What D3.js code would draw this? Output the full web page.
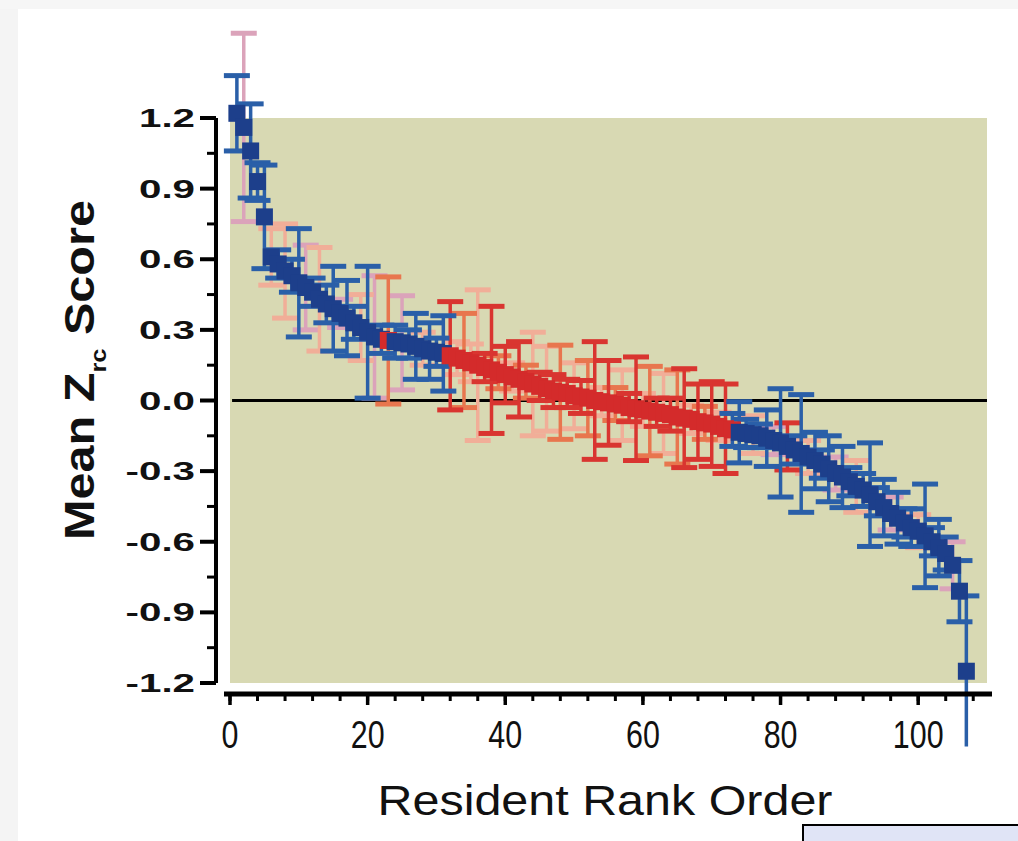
<!DOCTYPE html>
<html><head><meta charset="utf-8">
<script src="https://cdn.jsdelivr.net/npm/d3@7"></script>
<style>html,body{margin:0;padding:0;background:#fff;}svg{display:block;}</style>
</head><body>
<script>
// ---- data ----
const meanZ = [
  1.22, 1.16, 1.06, 0.93, 0.78, 0.61, 0.58, 0.55, 0.53, 0.50,
  0.48, 0.46, 0.43, 0.41, 0.39, 0.37, 0.35, 0.33, 0.31, 0.29,
  0.27, 0.26, 0.255, 0.25, 0.245, 0.24, 0.23, 0.22, 0.21, 0.205,
  0.20, 0.19, 0.18, 0.17, 0.16, 0.15, 0.14, 0.13, 0.12, 0.11,
  0.10, 0.09, 0.08, 0.07, 0.06, 0.05, 0.04, 0.035, 0.03, 0.02,
  0.015, 0.01, 0.0, -0.005, -0.01, -0.015, -0.02, -0.03, -0.035, -0.04,
  -0.045, -0.05, -0.055, -0.06, -0.07, -0.075, -0.08, -0.09, -0.095, -0.10,
  -0.11, -0.12, -0.125, -0.135, -0.14, -0.145, -0.15, -0.16, -0.17, -0.18,
  -0.195, -0.21, -0.225, -0.24, -0.255, -0.27, -0.29, -0.31, -0.325, -0.345,
  -0.365, -0.38, -0.40, -0.43, -0.455, -0.48, -0.50, -0.52, -0.54, -0.555,
  -0.575, -0.60, -0.625, -0.65, -0.70, -0.81, -1.15
];
const errZ = [
  0.16, 0.40, 0.20, 0.08, 0.22, 0.12, 0.06, 0.20, 0.07, 0.23,
  0.18, 0.06, 0.22, 0.08, 0.18, 0.06, 0.16, 0.07, 0.14, 0.28,
  0.26, 0.06, 0.27, 0.07, 0.20, 0.06, 0.14, 0.07, 0.12, 0.06,
  0.16, 0.23, 0.07, 0.20, 0.08, 0.32, 0.06, 0.27, 0.07, 0.12,
  0.06, 0.16, 0.07, 0.22, 0.06, 0.18, 0.07, 0.20, 0.06, 0.14,
  0.07, 0.16, 0.25, 0.06, 0.18, 0.07, 0.15, 0.06, 0.22, 0.07,
  0.19, 0.06, 0.17, 0.07, 0.20, 0.21, 0.06, 0.16, 0.07, 0.18,
  0.06, 0.19, 0.07, 0.13, 0.06, 0.08, 0.05, 0.12, 0.06, 0.23,
  0.10, 0.06, 0.25, 0.07, 0.12, 0.06, 0.14, 0.07, 0.13, 0.06,
  0.11, 0.07, 0.22, 0.06, 0.12, 0.07, 0.11, 0.06, 0.08, 0.07,
  0.22, 0.06, 0.12, 0.07, 0.10, 0.13, 0.32
];
// error bar colour class: b blue, p pink, s salmon, r red, o orange
const errClass = (
  "bpbbbsbsbb" + "pbsbbpbbsb" + "pbobpbbsbb" + "brsossrror" +
  "srosrsrors" + "rorsrosrrs" + "orsrorsror" + "srbbbsbbpb" +
  "rbbsbbbpbb" + "sbbbbpbbbs" + "bbbbpbb"
).split("");
// point group: B blue, R red
const groups = meanZ.map((_, i) => {
  const r = i + 1;
  return (r === 23 || (r >= 32 && r <= 73)) ? "R" : "B";
});
const yTicks = [1.2, 0.9, 0.6, 0.3, 0.0, -0.3, -0.6, -0.9, -1.2];
const yTickLabels = ["1.2", "0.9", "0.6", "0.3", "0.0", "-0.3", "-0.6", "-0.9", "-1.2"];
const xTicks = [0, 20, 40, 60, 80, 100];
const xTickLabels = ["0", "20", "40", "60", "80", "100"];

// ---- drawing ----
const W = 1018, H = 841;
const svg = d3.select("body").append("svg").attr("width", W).attr("height", H);

// screenshot frame artefacts
svg.append("rect").attr("x", 0).attr("y", 0).attr("width", W).attr("height", H).attr("fill", "#fff");
svg.append("rect").attr("x", 0).attr("y", 0).attr("width", 18).attr("height", H).attr("fill", "#f4f4f4");
svg.append("rect").attr("x", 0).attr("y", 0).attr("width", W).attr("height", 9).attr("fill", "#f6f6f6");

const x = d3.scaleLinear().domain([0, 110]).range([230, 987]);
const y = d3.scaleLinear().domain([-1.2, 1.2]).range([683, 118]);

// shaded plot area
svg.append("rect")
  .attr("x", x(0)).attr("y", y(1.2))
  .attr("width", x(110) - x(0)).attr("height", y(-1.2) - y(1.2))
  .attr("fill", "#d8d9b3");

// zero line
svg.append("line")
  .attr("x1", x(0.3)).attr("x2", x(110)).attr("y1", y(0)).attr("y2", y(0))
  .attr("stroke", "#000").attr("stroke-width", 3);

const errColors = { b: "#2a5fa8", p: "#dba3ba", s: "#f1ae98", r: "#d93530", o: "#e8764e" };
const data = meanZ.map((m, i) => ({ rank: i + 1, m, e: errZ[i], c: errClass[i] || "b", g: groups[i] }));

// error bars: draw light colours first
const order = { p: 0, s: 1, o: 2, r: 3, b: 4 };
const eb = svg.append("g");
const sorted = data.slice().sort((a, b) => order[a.c] - order[b.c]);
const capW = 13;
sorted.forEach(d => {
  const col = errColors[d.c];
  const cx = x(d.rank);
  eb.append("line").attr("x1", cx).attr("x2", cx)
    .attr("y1", y(d.m + d.e)).attr("y2", y(d.m - d.e))
    .attr("stroke", col).attr("stroke-width", 3.5);
  [d.m + d.e, d.m - d.e].filter(v => v >= -1.2).forEach(v => {
    eb.append("line").attr("x1", cx - capW).attr("x2", cx + capW)
      .attr("y1", y(v)).attr("y2", y(v))
      .attr("stroke", col).attr("stroke-width", 5);
  });
});

// points
const ptCol = { B: "#1d3f8b", R: "#d42b2b" };
const sz = 17;
svg.append("g").selectAll("rect").data(data).join("rect")
  .attr("x", d => x(d.rank) - sz / 2).attr("y", d => y(d.m) - sz / 2)
  .attr("width", sz).attr("height", sz)
  .attr("fill", d => ptCol[d.g]);

// y axis
const yAxisX = 216;
const ya = svg.append("g");
ya.append("line").attr("x1", yAxisX).attr("x2", yAxisX).attr("y1", y(1.2)).attr("y2", y(-1.2))
  .attr("stroke", "#000").attr("stroke-width", 4);
const yMinor = d3.range(-8, 9).map(k => k * 0.15);
yMinor.forEach(v => {
  const major = yTicks.some(t => Math.abs(t - v) < 1e-6);
  ya.append("line").attr("x1", yAxisX - (major ? 16 : 9)).attr("x2", yAxisX)
    .attr("y1", y(v)).attr("y2", y(v)).attr("stroke", "#000").attr("stroke-width", major ? 4 : 3);
});
yTicks.forEach((v, i) => {
  ya.append("text")
    .attr("transform", `translate(195,${y(v) + 9}) scale(1.55,1)`)
    .attr("text-anchor", "end")
    .attr("font-family", "Liberation Sans, Arial, sans-serif")
    .attr("font-weight", "bold").attr("font-size", 26).attr("fill", "#111")
    .text(yTickLabels[i]);
});

// x axis
const xAxisY = 694;
const xa = svg.append("g");
xa.append("line").attr("x1", 224).attr("x2", 992).attr("y1", xAxisY).attr("y2", xAxisY)
  .attr("stroke", "#000").attr("stroke-width", 5);
d3.range(0, 111, 4).forEach(v => {
  xa.append("line").attr("x1", x(v)).attr("x2", x(v)).attr("y1", xAxisY).attr("y2", xAxisY + 7)
    .attr("stroke", "#000").attr("stroke-width", 3);
});
xTicks.forEach((v, i) => {
  xa.append("line").attr("x1", x(v)).attr("x2", x(v)).attr("y1", xAxisY).attr("y2", xAxisY + 11)
    .attr("stroke", "#000").attr("stroke-width", 3.5);
  xa.append("text")
    .attr("transform", `translate(${x(v)},748) scale(0.8,1)`)
    .attr("text-anchor", "middle")
    .attr("font-family", "Liberation Sans, Arial, sans-serif")
    .attr("font-size", 38).attr("fill", "#111")
    .text(xTickLabels[i]);
});

// axis titles
svg.append("text")
  .attr("x", 605).attr("y", 815).attr("text-anchor", "middle")
  .attr("font-family", "Liberation Sans, Arial, sans-serif")
  .attr("font-size", 42).attr("fill", "#111")
  .attr("textLength", 455).attr("lengthAdjust", "spacingAndGlyphs")
  .text("Resident Rank Order");

const yt = svg.append("text")
  .attr("transform", "translate(94,370) rotate(-90)")
  .attr("text-anchor", "middle")
  .attr("font-family", "Liberation Sans, Arial, sans-serif")
  .attr("font-weight", "bold").attr("font-size", 42).attr("fill", "#111")
  .attr("textLength", 340).attr("lengthAdjust", "spacingAndGlyphs");
yt.append("tspan").text("Mean Z");
yt.append("tspan").attr("font-size", 22).attr("dy", 12).text("rc");
yt.append("tspan").attr("dy", -12).text(" Score");

// screenshot artefact box (bottom right)
svg.append("rect").attr("x", 803).attr("y", 825).attr("width", 230).attr("height", 30)
  .attr("fill", "#e0e4f6").attr("stroke", "#000").attr("stroke-width", 2);
</script>
</body></html>
